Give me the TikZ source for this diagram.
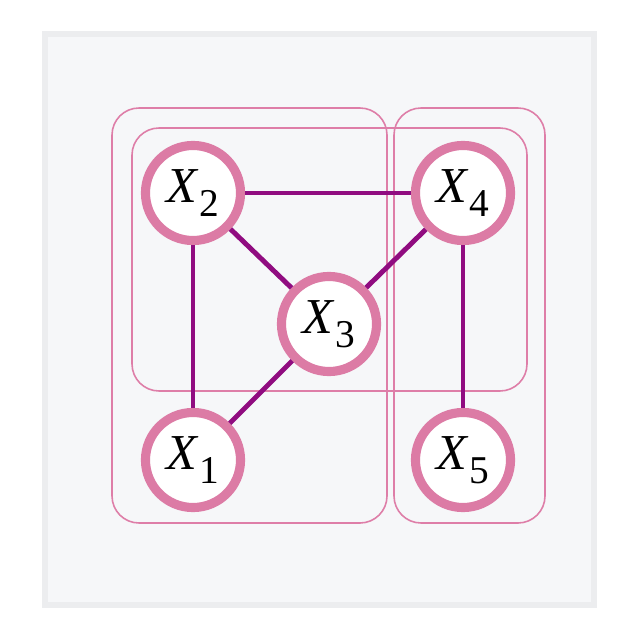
\documentclass[tikz,border=0pt]{standalone}
\usepackage{fontspec}
\setmainfont{Liberation Serif}
\definecolor{ringpink}{HTML}{DC7BA5}
\definecolor{edgepurple}{HTML}{900C80}
\definecolor{platepink}{HTML}{DE7EA8}
\definecolor{panelfill}{HTML}{F6F7F9}
\definecolor{panelborder}{HTML}{ECEDEF}
\newcommand{\rv}[1]{\textit{X}\kern0.02em\raisebox{-0.27em}{\fontsize{11.2}{12}\selectfont #1}}
\begin{document}
\begin{tikzpicture}[x=0.01cm,y=-0.01cm,
  var/.style={circle,draw=ringpink,line width=2.6pt,fill=white,minimum size=0.95cm,inner sep=0pt,font=\fontsize{14.3}{16}\selectfont},
  link/.style={draw=edgepurple,line width=1.4pt},
  plate/.style={draw=platepink,line width=0.45pt,rounded corners=0.27cm}]
\useasboundingbox (0,0) rectangle (640,640);
\fill[white] (0,0) rectangle (640,640);
\draw[panelborder,fill=panelfill,line width=1.7pt] (45,34) rectangle (594,605);
% plates
\draw[plate] (112,108) rectangle (387,523);
\draw[plate] (132,128) rectangle (527,391);
\draw[plate] (394,108) rectangle (545,523);
% nodes
\node[var] (x2) at (193,193) {\rv{2}};
\node[var] (x4) at (463,193) {\rv{4}};
\node[var] (x3) at (329,324) {\rv{3}};
\node[var] (x1) at (193,460) {\rv{1}};
\node[var] (x5) at (463,460) {\rv{5}};
% edges
\draw[link] (x2) -- (x4);
\draw[link] (x2) -- (x1);
\draw[link] (x2) -- (x3);
\draw[link] (x3) -- (x1);
\draw[link] (x3) -- (x4);
\draw[link] (x4) -- (x5);
\end{tikzpicture}
\end{document}
